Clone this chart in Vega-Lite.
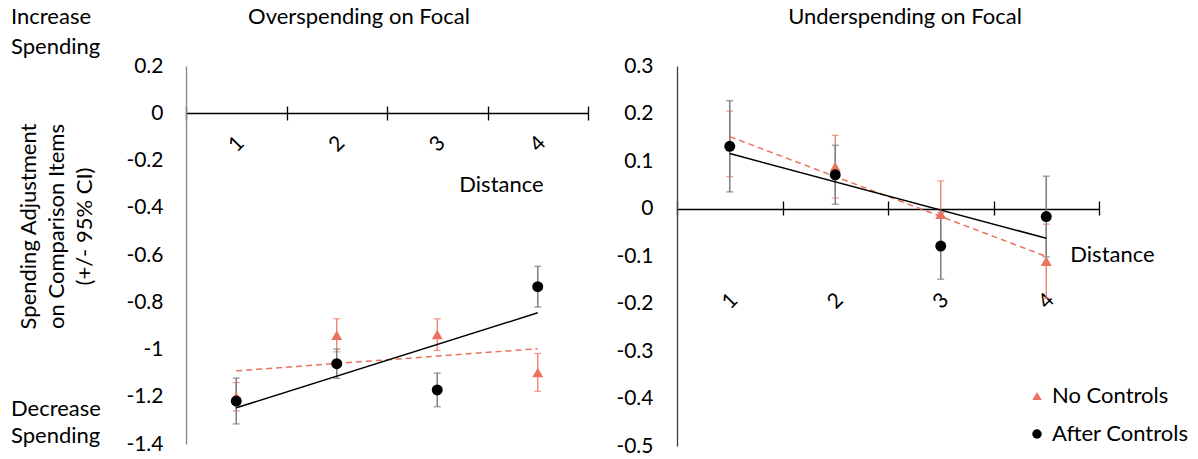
{
  "$schema": "https://vega.github.io/schema/vega-lite/v6.json",
  "background": "white",
  "padding": {"left": 10, "top": 6, "right": 0, "bottom": 0},
  "title": {
    "text": ["Increase", "Spending"],
    "subtitle": ["Decrease", "Spending"],
    "orient": "top",
    "anchor": "start",
    "frame": "bounds",
    "offset": -442,
    "dx": -6,
    "lineHeight": 30,
    "subtitleLineHeight": 27,
    "subtitlePadding": 340,
    "fontSize": 22,
    "subtitleFontSize": 22,
    "font": "Lato",
    "subtitleFont": "Lato",
    "color": "#000",
    "subtitleColor": "#000",
    "fontWeight": "normal"
  },
  "datasets": {
    "over": [
      {"d": 1, "s": "No Controls", "m": -1.2, "lo": -1.26, "hi": -1.14},
      {"d": 2, "s": "No Controls", "m": -0.94, "lo": -1.01, "hi": -0.87},
      {"d": 3, "s": "No Controls", "m": -0.937, "lo": -1.004, "hi": -0.87},
      {"d": 4, "s": "No Controls", "m": -1.097, "lo": -1.177, "hi": -1.017},
      {"d": 1, "s": "After Controls", "m": -1.218, "lo": -1.315, "hi": -1.121},
      {"d": 2, "s": "After Controls", "m": -1.06, "lo": -1.122, "hi": -0.998},
      {"d": 3, "s": "After Controls", "m": -1.171, "lo": -1.242, "hi": -1.1},
      {"d": 4, "s": "After Controls", "m": -0.734, "lo": -0.82, "hi": -0.648}
    ],
    "under": [
      {"d": 1, "s": "No Controls", "m": 0.136, "lo": 0.067, "hi": 0.205},
      {"d": 2, "s": "No Controls", "m": 0.088, "lo": 0.022, "hi": 0.154},
      {"d": 3, "s": "No Controls", "m": -0.012, "lo": -0.082, "hi": 0.058},
      {"d": 4, "s": "No Controls", "m": -0.111, "lo": -0.189, "hi": -0.033},
      {"d": 1, "s": "After Controls", "m": 0.131, "lo": 0.035, "hi": 0.227},
      {"d": 2, "s": "After Controls", "m": 0.071, "lo": 0.009, "hi": 0.133},
      {"d": 3, "s": "After Controls", "m": -0.079, "lo": -0.149, "hi": -0.009},
      {"d": 4, "s": "After Controls", "m": -0.017, "lo": -0.102, "hi": 0.068}
    ]
  },
  "hconcat": [
    {
      "width": 402,
      "height": 378,
      "data": {"name": "over"},
      "title": {"text": "Overspending on Focal", "anchor": "middle", "dx": -28, "offset": 26},
      "encoding": {
        "x": {
          "field": "d", "type": "ordinal", "bandPosition": 0.5,
          "scale": {"type": "band", "paddingInner": 0, "paddingOuter": 0},
          "axis": {
            "orient": "bottom", "offset": -338, "domain": false, "ticks": true, "tickBand": "extent",
            "tickSize": 14, "tickWidth": 1.3, "tickColor": "#000",
            "labelAngle": -45, "labelAlign": "center", "labelBaseline": "middle", "labelPadding": 24,
            "title": "Distance", "titleX": 315, "titleY": 78, "titleAlign": "center", "titleBaseline": "middle"
          }
        },
        "y": {
          "field": "m", "type": "quantitative",
          "scale": {"domain": [-1.4, 0.2], "nice": false, "zero": false},
          "axis": {
            "values": [-1.4, -1.2, -1, -0.8, -0.6, -0.4, -0.2, 0, 0.2],
            "labelExpr": "'' + datum.value",
            "ticks": false, "tickSize": 0, "domainColor": "#868686", "domainWidth": 1.3,
            "grid": true, "gridColor": "#000", "gridWidth": 1.3,
            "gridOpacity": {"condition": {"test": "datum.value == 0", "value": 1}, "value": 0},
            "labelPadding": 23,
            "title": ["Spending Adjustment", "on Comparison Items", "(+/- 95% CI)"],
            "titleX": -158, "titleY": 160, "titleAlign": "center", "titleBaseline": "middle",
            "titleAngle": -90, "titleLineHeight": 28
          }
        }
      },
      "layer": [
        {
          "transform": [{"filter": "datum.s == 'No Controls'"}],
          "mark": {"type": "errorbar", "color": "#E9735D", "thickness": 1.2, "size": 7, "ticks": true},
          "encoding": {
            "y": {
              "field": "lo", "type": "quantitative",
              "scale": {"domain": [-1.4, 0.2], "nice": false, "zero": false},
              "axis": {
                "values": [-1.4, -1.2, -1, -0.8, -0.6, -0.4, -0.2, 0, 0.2],
                "labelExpr": "'' + datum.value",
                "ticks": false, "tickSize": 0, "domainColor": "#868686", "domainWidth": 1.3,
                "grid": true, "gridColor": "#000", "gridWidth": 1.3,
                "gridOpacity": {"condition": {"test": "datum.value == 0", "value": 1}, "value": 0},
                "labelPadding": 23,
                "title": ["Spending Adjustment", "on Comparison Items", "(+/- 95% CI)"],
                "titleX": -158, "titleY": 160, "titleAlign": "center", "titleBaseline": "middle",
                "titleAngle": -90, "titleLineHeight": 28
              }
            },
            "y2": {"field": "hi"}
          }
        },
        {
          "transform": [{"filter": "datum.s == 'After Controls'"}],
          "mark": {"type": "errorbar", "color": "#7F7F7F", "thickness": 1.5, "size": 7, "ticks": true},
          "encoding": {
            "y": {
              "field": "lo", "type": "quantitative",
              "scale": {"domain": [-1.4, 0.2], "nice": false, "zero": false},
              "axis": {
                "values": [-1.4, -1.2, -1, -0.8, -0.6, -0.4, -0.2, 0, 0.2],
                "labelExpr": "'' + datum.value",
                "ticks": false, "tickSize": 0, "domainColor": "#868686", "domainWidth": 1.3,
                "grid": true, "gridColor": "#000", "gridWidth": 1.3,
                "gridOpacity": {"condition": {"test": "datum.value == 0", "value": 1}, "value": 0},
                "labelPadding": 23,
                "title": ["Spending Adjustment", "on Comparison Items", "(+/- 95% CI)"],
                "titleX": -158, "titleY": 160, "titleAlign": "center", "titleBaseline": "middle",
                "titleAngle": -90, "titleLineHeight": 28
              }
            },
            "y2": {"field": "hi"}
          }
        },
        {
          "transform": [{"filter": "datum.s == 'No Controls'"}, {"regression": "m", "on": "d", "extent": [1, 4]}],
          "mark": {"type": "line", "color": "#E9735D", "strokeWidth": 1.5, "strokeDash": [6, 4]}
        },
        {
          "transform": [{"filter": "datum.s == 'After Controls'"}, {"regression": "m", "on": "d", "extent": [1, 4]}],
          "mark": {"type": "line", "color": "#000000", "strokeWidth": 1.5}
        },
        {
          "mark": {"type": "point", "filled": true, "size": 120, "opacity": 1, "strokeWidth": 0},
          "encoding": {
            "color": {"field": "s", "type": "nominal", "scale": {"domain": ["No Controls", "After Controls"], "range": ["#E9735D", "#000000"]}, "legend": null},
            "shape": {"field": "s", "type": "nominal", "scale": {"domain": ["No Controls", "After Controls"], "range": ["triangle-up", "circle"]}, "legend": null}
          }
        }
      ]
    },
    {
      "width": 422,
      "height": 380,
      "data": {"name": "under"},
      "title": {"text": "Underspending on Focal", "anchor": "middle", "dx": 17, "offset": 26},
      "encoding": {
        "x": {
          "field": "d", "type": "ordinal", "bandPosition": 0.5,
          "scale": {"type": "band", "paddingInner": 0, "paddingOuter": 0},
          "axis": {
            "orient": "bottom", "offset": -245, "domain": false, "ticks": true, "tickBand": "extent",
            "tickSize": 14, "tickWidth": 1.3, "tickColor": "#000",
            "labelAngle": -45, "labelAlign": "center", "labelBaseline": "middle", "labelPadding": 86,
            "title": "Distance", "titleX": 435, "titleY": 53, "titleAlign": "center", "titleBaseline": "middle"
          }
        },
        "y": {
          "field": "m", "type": "quantitative",
          "scale": {"domain": [-0.5, 0.3], "nice": false, "zero": false},
          "axis": {
            "values": [-0.5, -0.4, -0.3, -0.2, -0.1, 0, 0.1, 0.2, 0.3],
            "labelExpr": "'' + datum.value",
            "ticks": false, "tickSize": 0, "domainColor": "#404040", "domainWidth": 1.3,
            "grid": true, "gridColor": "#000", "gridWidth": 1.3,
            "gridOpacity": {"condition": {"test": "datum.value == 0", "value": 1}, "value": 0},
            "labelPadding": 24, "title": null
          }
        }
      },
      "layer": [
        {
          "transform": [{"filter": "datum.s == 'No Controls'"}],
          "mark": {"type": "errorbar", "color": "#E9735D", "thickness": 1.2, "size": 7, "ticks": true},
          "encoding": {
            "y": {
              "field": "lo", "type": "quantitative",
              "scale": {"domain": [-0.5, 0.3], "nice": false, "zero": false},
              "axis": {
                "values": [-0.5, -0.4, -0.3, -0.2, -0.1, 0, 0.1, 0.2, 0.3],
                "labelExpr": "'' + datum.value",
                "ticks": false, "tickSize": 0, "domainColor": "#404040", "domainWidth": 1.3,
                "grid": true, "gridColor": "#000", "gridWidth": 1.3,
                "gridOpacity": {"condition": {"test": "datum.value == 0", "value": 1}, "value": 0},
                "labelPadding": 24, "title": null
              }
            },
            "y2": {"field": "hi"}
          }
        },
        {
          "transform": [{"filter": "datum.s == 'After Controls'"}],
          "mark": {"type": "errorbar", "color": "#7F7F7F", "thickness": 1.5, "size": 7, "ticks": true},
          "encoding": {
            "y": {
              "field": "lo", "type": "quantitative",
              "scale": {"domain": [-0.5, 0.3], "nice": false, "zero": false},
              "axis": {
                "values": [-0.5, -0.4, -0.3, -0.2, -0.1, 0, 0.1, 0.2, 0.3],
                "labelExpr": "'' + datum.value",
                "ticks": false, "tickSize": 0, "domainColor": "#404040", "domainWidth": 1.3,
                "grid": true, "gridColor": "#000", "gridWidth": 1.3,
                "gridOpacity": {"condition": {"test": "datum.value == 0", "value": 1}, "value": 0},
                "labelPadding": 24, "title": null
              }
            },
            "y2": {"field": "hi"}
          }
        },
        {
          "transform": [{"filter": "datum.s == 'No Controls'"}, {"regression": "m", "on": "d", "extent": [1, 4]}],
          "mark": {"type": "line", "color": "#E9735D", "strokeWidth": 1.5, "strokeDash": [6, 4]}
        },
        {
          "transform": [{"filter": "datum.s == 'After Controls'"}, {"regression": "m", "on": "d", "extent": [1, 4]}],
          "mark": {"type": "line", "color": "#000000", "strokeWidth": 1.5}
        },
        {
          "mark": {"type": "point", "filled": true, "size": 120, "opacity": 1, "strokeWidth": 0},
          "encoding": {
            "color": {
              "field": "s", "type": "nominal",
              "scale": {"domain": ["No Controls", "After Controls"], "range": ["#E9735D", "#000000"]},
              "legend": {"orient": "none", "legendX": 349, "legendY": 319, "title": null, "padding": 0, "symbolSize": 90, "rowPadding": 16, "labelOffset": 4, "labelFontSize": 22, "labelFont": "Lato", "labelColor": "#000", "symbolStrokeWidth": 0}
            },
            "shape": {
              "field": "s", "type": "nominal",
              "scale": {"domain": ["No Controls", "After Controls"], "range": ["triangle-up", "circle"]},
              "legend": {"orient": "none", "legendX": 349, "legendY": 319, "title": null, "padding": 0, "symbolSize": 90, "rowPadding": 16, "labelOffset": 4, "labelFontSize": 22, "labelFont": "Lato", "labelColor": "#000", "symbolStrokeWidth": 0}
            }
          }
        }
      ]
    }
  ],
  "spacing": 26,
  "resolve": {
    "scale": {"color": "independent", "shape": "independent", "x": "independent", "y": "independent"},
    "legend": {"color": "independent", "shape": "independent"}
  },
  "config": {
    "font": "Lato",
    "view": {"stroke": null},
    "axis": {"labelFont": "Lato", "titleFont": "Lato", "labelFontSize": 21, "titleFontSize": 22, "labelColor": "#000", "titleColor": "#000", "titleFontWeight": "normal"},
    "title": {"font": "Lato", "fontSize": 22, "fontWeight": "normal", "color": "#000"}
  }
}
